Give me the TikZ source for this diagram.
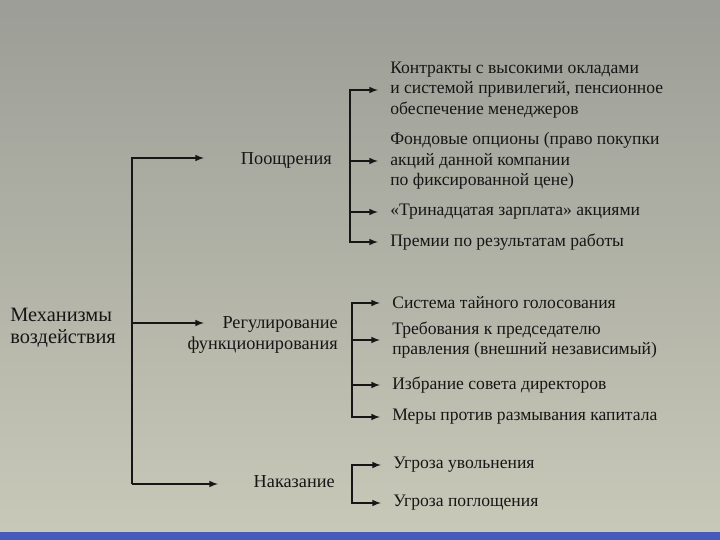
\documentclass[tikz,border=0pt]{standalone}
\usepackage{fontspec}
\setmainfont{Liberation Serif}
\usetikzlibrary{arrows, positioning, backgrounds}

\definecolor{paper}{RGB}{200,201,184}
\definecolor{papertop}{RGB}{156,157,150}
\definecolor{ink}{RGB}{22,22,22}
\definecolor{strip}{RGB}{70,90,185}

\tikzset{
  arr/.style={-latex, line width=1.1pt, draw=ink},
  item/.style={anchor=west, align=left, inner sep=0pt, text=ink, font=\fontsize{12.5}{14.5}\selectfont},
  group/.style={anchor=east, align=right, inner sep=0pt, text=ink, font=\fontsize{13}{15}\selectfont},
}

\begin{document}
\begin{tikzpicture}
  \useasboundingbox (0,0) rectangle (18,13.5);
  \shade[top color=papertop, bottom color=paper] (0,0) rectangle (18,13.5);
  \fill[strip] (0,0) rectangle (18,0.2);

  % root and the three groups
  \node[group, anchor=west, align=left, font=\fontsize{14.5}{15.8}\selectfont] (mech) at (0.25,5.3) {Механизмы\\воздействия};
  \node[group] (pooshch) at (8.3,9.5) {Поощрения};
  \node[group] (regul) at (8.45,5.125) {Регулирование\\функционирования};
  \node[group] (nakaz) at (8.375,1.45) {Наказание};

  \coordinate (trtop) at (3.3,9.55);
  \coordinate (trmid) at (3.3,5.425);
  \coordinate (trbot) at (3.3,1.4);
  \coordinate (tippooshch) at (5.1,9.55);
  \coordinate (tipregul) at (5.1,5.425);
  \coordinate (tipnakaz) at (5.45,1.4);
  \draw[arr, line join=miter] (trbot) -- (trtop) -- (tippooshch);
  \draw[arr] (trmid) -- (tipregul);
  \draw[arr] (trbot) -- (tipnakaz);

  % incentives
  \node[item] (kontr) at (9.75,11.25) {Контракты с высокими окладами\\и системой привилегий, пенсионное\\обеспечение менеджеров};
  \node[item] (fond) at (9.75,9.475) {Фондовые опционы (право покупки\\акций данной компании\\по фиксированной цене)};
  \node[item] (trin) at (9.75,8.2) {«Тринадцатая зарплата» акциями};
  \node[item] (prem) at (9.75,7.45) {Премии по результатам работы};

  % regulation
  \node[item] (sist) at (9.8,5.925) {Система тайного голосования};
  \node[item] (treb) at (9.8,5.0) {Требования к председателю\\правления (внешний независимый)};
  \node[item] (izbr) at (9.8,3.875) {Избрание совета директоров};
  \node[item] (mery) at (9.8,3.075) {Меры против размывания капитала};

  % punishment
  \node[item] (uvol) at (9.825,1.875) {Угроза увольнения};
  \node[item] (pogl) at (9.825,0.925) {Угроза поглощения};

  \coordinate (br1) at (8.75,0);
  \coordinate (br2) at (8.8,0);
  \draw[line width=1.1pt, ink, line cap=rect] (br1 |- kontr.west) -- (br1 |- prem.west);
  \draw[line width=1.1pt, ink, line cap=rect] (br2 |- sist.west) -- (br2 |- mery.west);
  \draw[line width=1.1pt, ink, line cap=rect] (br2 |- uvol.west) -- (br2 |- pogl.west);
  \foreach \t in {kontr, fond, trin, prem}
    \draw[arr] (br1 |- \t.west) -- ([xshift=-0.3cm]\t.west);
  \foreach \t in {sist, treb, izbr, mery, uvol, pogl}
    \draw[arr] (br2 |- \t.west) -- ([xshift=-0.3cm]\t.west);
\end{tikzpicture}
\end{document}
